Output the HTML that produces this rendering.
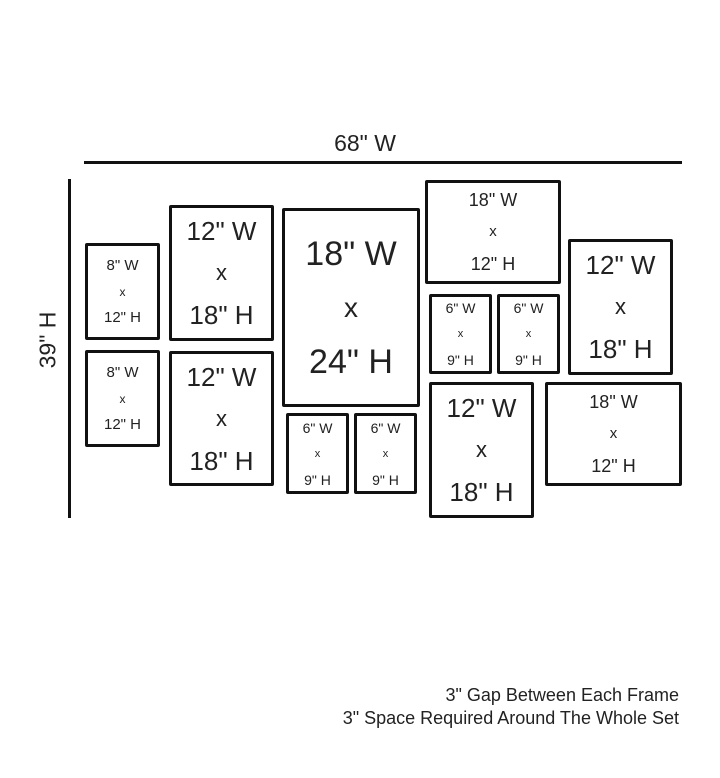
<!DOCTYPE html>
<html><head><meta charset="utf-8"><style>
html,body{margin:0;padding:0;background:#fff;}
body{width:720px;height:778px;position:relative;overflow:hidden;font-family:"Liberation Sans",sans-serif;color:#222;}
.b{position:absolute;box-sizing:border-box;border:3px solid #111;border-radius:2px;display:flex;flex-direction:column;justify-content:center;align-items:center;}
.b div{white-space:nowrap;text-align:center;}
.s8 div{font-size:15px;line-height:26px;}
.s6 div{font-size:14px;line-height:26px;}
.s12 div{font-size:26px;line-height:42px;}
.s24 div{font-size:34px;line-height:54px;}
.s18 div{font-size:18px;line-height:32px;}
.b div.x{font-size:0.75em;}
.s8 div.x{font-size:12px;}
.s6 div.x{font-size:11px;}
.s12 div.x{font-size:22px;}
.s24 div.x{font-size:28px;}
.s18 div.x{font-size:15px;}
.line{position:absolute;background:#111;}
.t{position:absolute;white-space:nowrap;}
</style></head><body>
<div class="t" style="left:0;width:730px;text-align:center;top:130px;font-size:23px;">68" W</div>
<div class="line" style="left:84px;top:161px;width:598px;height:3px;"></div>
<div class="line" style="left:68px;top:179px;width:3px;height:339px;"></div>
<div class="t" style="left:48px;top:340px;font-size:23px;transform:translate(-50%,-50%) rotate(-90deg);">39" H</div>

<div class="b s8" style="left:85px;top:243px;width:75px;height:97px;"><div>8" W</div><div class="x">x</div><div>12" H</div></div>
<div class="b s8" style="left:85px;top:350px;width:75px;height:97px;"><div>8" W</div><div class="x">x</div><div>12" H</div></div>
<div class="b s12" style="left:169px;top:205px;width:105px;height:136px;"><div>12" W</div><div class="x">x</div><div>18" H</div></div>
<div class="b s12" style="left:169px;top:351px;width:105px;height:135px;"><div>12" W</div><div class="x">x</div><div>18" H</div></div>
<div class="b s24" style="left:282px;top:208px;width:138px;height:199px;"><div>18" W</div><div class="x">x</div><div>24" H</div></div>
<div class="b s6" style="left:286px;top:413px;width:63px;height:81px;"><div>6" W</div><div class="x">x</div><div>9" H</div></div>
<div class="b s6" style="left:354px;top:413px;width:63px;height:81px;"><div>6" W</div><div class="x">x</div><div>9" H</div></div>
<div class="b s18" style="left:425px;top:180px;width:136px;height:104px;"><div>18" W</div><div class="x">x</div><div>12" H</div></div>
<div class="b s6" style="left:429px;top:294px;width:63px;height:80px;"><div>6" W</div><div class="x">x</div><div>9" H</div></div>
<div class="b s6" style="left:497px;top:294px;width:63px;height:80px;"><div>6" W</div><div class="x">x</div><div>9" H</div></div>
<div class="b s12" style="left:568px;top:239px;width:105px;height:136px;"><div>12" W</div><div class="x">x</div><div>18" H</div></div>
<div class="b s12" style="left:429px;top:382px;width:105px;height:136px;"><div>12" W</div><div class="x">x</div><div>18" H</div></div>
<div class="b s18" style="left:545px;top:382px;width:137px;height:104px;"><div>18" W</div><div class="x">x</div><div>12" H</div></div>

<div class="t" style="right:41px;top:685px;font-size:18px;">3" Gap Between Each Frame</div>
<div class="t" style="right:41px;top:708px;font-size:18px;">3" Space Required Around The Whole Set</div>
</body></html>
